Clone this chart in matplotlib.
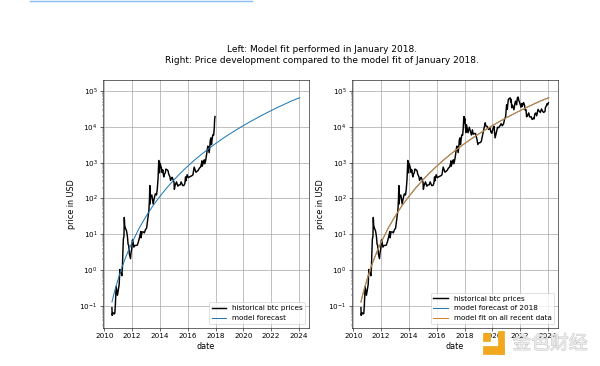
import matplotlib
matplotlib.use("Agg")
import matplotlib.pyplot as plt
import matplotlib.dates as mdates
import matplotlib.patheffects as pe
import pandas as pd
from matplotlib.lines import Line2D
from matplotlib.patches import Rectangle

# ---------------- data ----------------
price_dates = [
    "2010-07-18", "2010-07-25", "2010-08-05", "2010-08-20", "2010-09-10", "2010-10-01",
    "2010-10-15", "2010-11-06", "2010-11-20", "2010-12-10", "2010-12-25", "2011-01-10",
    "2011-01-25", "2011-02-10", "2011-02-25", "2011-03-10", "2011-03-25", "2011-04-05",
    "2011-04-20", "2011-05-01", "2011-05-15", "2011-05-30", "2011-06-08", "2011-06-20",
    "2011-07-01", "2011-07-15", "2011-08-01", "2011-08-15", "2011-09-01", "2011-09-15",
    "2011-10-01", "2011-10-20", "2011-11-18", "2011-12-01", "2011-12-20", "2012-01-08",
    "2012-01-25", "2012-02-15", "2012-03-10", "2012-04-10", "2012-05-15", "2012-06-15",
    "2012-07-15", "2012-08-15", "2012-08-20", "2012-09-15", "2012-10-15", "2012-11-15",
    "2012-12-15", "2013-01-15", "2013-02-15", "2013-03-15", "2013-03-30", "2013-04-09",
    "2013-04-16", "2013-05-01", "2013-06-01", "2013-07-05", "2013-08-01", "2013-09-01",
    "2013-10-01", "2013-10-20", "2013-11-10", "2013-11-30", "2013-12-18", "2014-01-05",
    "2014-01-25", "2014-02-10", "2014-02-25", "2014-03-15", "2014-04-10", "2014-04-25",
    "2014-05-20", "2014-06-05", "2014-07-01", "2014-08-01", "2014-08-18", "2014-09-20",
    "2014-10-05", "2014-10-25", "2014-11-15", "2014-12-15", "2015-01-05", "2015-01-14",
    "2015-02-01", "2015-03-10", "2015-04-15", "2015-05-15", "2015-06-15", "2015-07-10",
    "2015-08-20", "2015-09-20", "2015-10-15", "2015-11-04", "2015-11-12", "2015-12-15",
    "2016-01-15", "2016-02-15", "2016-03-15", "2016-04-15", "2016-05-15", "2016-06-17",
    "2016-07-01", "2016-08-02", "2016-09-01", "2016-10-01", "2016-11-01", "2016-12-01",
    "2016-12-30", "2017-01-05", "2017-01-12", "2017-02-15", "2017-03-10", "2017-03-25",
    "2017-04-20", "2017-05-10", "2017-05-25", "2017-06-12", "2017-07-16", "2017-08-01",
    "2017-08-15", "2017-09-01", "2017-09-15", "2017-10-01", "2017-10-20", "2017-11-12",
    "2017-11-28", "2017-12-07", "2017-12-17",
    # after the January 2018 fit
    "2017-12-22", "2018-01-06", "2018-01-20", "2018-02-05", "2018-02-20", "2018-03-10",
    "2018-04-01", "2018-05-05", "2018-06-28", "2018-07-25", "2018-08-14", "2018-09-15",
    "2018-10-15", "2018-11-20", "2018-12-15", "2019-01-15", "2019-02-15", "2019-03-15",
    "2019-04-05", "2019-05-15", "2019-06-26", "2019-07-15", "2019-08-15", "2019-09-25",
    "2019-10-26", "2019-11-25", "2019-12-18", "2020-01-15", "2020-02-13", "2020-03-12",
    "2020-04-15", "2020-05-15", "2020-06-15", "2020-07-27", "2020-08-17", "2020-09-15",
    "2020-10-20", "2020-11-15", "2020-12-15", "2021-01-08", "2021-01-27", "2021-02-21",
    "2021-03-13", "2021-04-14", "2021-04-25", "2021-05-10", "2021-05-23", "2021-06-15",
    "2021-07-20", "2021-08-22", "2021-09-06", "2021-09-28", "2021-10-20", "2021-11-08",
    "2021-11-26", "2021-12-15", "2022-01-22", "2022-02-10", "2022-02-24", "2022-03-29",
    "2022-04-25", "2022-05-12", "2022-06-01", "2022-06-18", "2022-07-15", "2022-08-13",
    "2022-09-06", "2022-10-15", "2022-11-09", "2022-12-15", "2022-12-30", "2023-01-20",
    "2023-02-15", "2023-03-10", "2023-04-14", "2023-05-15", "2023-06-15", "2023-07-13",
    "2023-08-17", "2023-09-11", "2023-10-15", "2023-10-25", "2023-11-15", "2023-12-08",
    "2023-12-18", "2024-01-11",
]
price_usd = [
    0.09, 0.055, 0.065, 0.065, 0.06, 0.062,
    0.10, 0.35, 0.28, 0.20, 0.25, 0.32,
    0.40, 1.05, 0.90, 0.87, 0.80, 0.70,
    1.20, 3.0, 7.5, 8.8, 29.6, 17,
    16, 14, 13, 11, 8.2, 5.3,
    5.0, 2.8, 2.1, 3.0, 3.9, 7.0,
    6.0, 4.4, 4.9, 4.9, 5.0, 6.3,
    8.5, 12, 8.0, 11.5, 11.8, 11,
    13.5, 15, 27, 47, 93, 230,
    70, 115, 125, 70, 100, 135,
    125, 175, 340, 1150, 520, 950,
    800, 680, 530, 630, 400, 470,
    520, 660, 640, 590, 480, 400,
    320, 360, 390, 330, 280, 180,
    230, 290, 220, 240, 240, 290,
    230, 230, 260, 400, 310, 460,
    380, 400, 415, 430, 455, 750,
    680, 540, 570, 610, 700, 750,
    960, 1120, 790, 1000, 1200, 930,
    1230, 1700, 2300, 2900, 1900, 2700,
    4300, 4900, 3200, 4400, 6000, 5900,
    9800, 16000, 19300,
    13000, 17100, 11500, 6900, 11400, 9000,
    6800, 9700, 5900, 8200, 6200, 6500,
    6450, 4500, 3200, 3600, 3600, 3900,
    5000, 8000, 12900, 10500, 10300, 8400,
    9500, 7100, 6600, 8800, 10300, 4900,
    6900, 9700, 9400, 11000, 12200, 10700,
    12000, 16000, 19500, 41000, 30500, 57000,
    61000, 64000, 49000, 58000, 34000, 40000,
    29800, 49000, 52000, 41000, 65000, 67500,
    54000, 48000, 35000, 44000, 37000, 47500,
    40000, 29000, 30000, 19000, 20800, 24400,
    18800, 19100, 16000, 17400, 16500, 22700,
    24300, 20200, 30500, 27200, 25100, 31400,
    26600, 25100, 27000, 34500, 37500, 44000,
    41000, 46600,
]
fit_cutoff = "2017-12-17"   # last price available to the January 2018 fit

model_dates = [
    "2010-07-18", "2010-10-01", "2011-01-01", "2011-04-01", "2011-07-01", "2011-10-01",
    "2012-01-01", "2012-07-01", "2013-01-01", "2013-07-01", "2014-01-01", "2014-07-01",
    "2015-01-01", "2015-07-01", "2016-01-01", "2016-07-01", "2017-01-01", "2017-07-01",
    "2018-01-01", "2018-07-01", "2019-01-01", "2019-07-01", "2020-01-01", "2020-07-01",
    "2021-01-01", "2021-07-01", "2022-01-01", "2022-07-01", "2023-01-01", "2023-07-01",
    "2024-01-20",
]
model_2018 = [
    0.13, 0.27, 0.58, 1.15, 2.1, 3.7,
    6.0, 14.7, 32, 63, 115, 199,
    329, 521, 798, 1190, 1725, 2450,
    3400, 4650, 6240, 8250, 10800, 13900,
    17800, 22500, 28300, 35100, 43400, 53000,
    64600,
]
model_all = [
    0.13, 0.27, 0.58, 1.15, 2.1, 3.7,
    6.0, 14.7, 32, 63, 115, 199,
    329, 521, 798, 1190, 1725, 2450,
    3400, 4650, 6240, 8250, 10800, 13900,
    17800, 22500, 28300, 35100, 43400, 53000,
    64600,
]

title_lines = ["Left: Model fit performed in January 2018.",
               "Right: Price development compared to the model fit of January 2018."]

# ---------------- figure ----------------
DPI = 52
fig = plt.figure(figsize=(600 / DPI, 366 / DPI), dpi=DPI)

pd_price = pd.Series(price_usd, index=pd.to_datetime(price_dates))
pd_model18 = pd.Series(model_2018, index=pd.to_datetime(model_dates))
pd_modelall = pd.Series(model_all, index=pd.to_datetime(model_dates))
left_price = pd_price[pd_price.index <= pd.Timestamp(fit_cutoff)]

ax1 = fig.add_axes([0.171, 0.105, 0.344, 0.676])
ax2 = fig.add_axes([0.586, 0.105, 0.344, 0.676])

black = "black"
blue = "#1f77b4"
orange = "#d9822b"

ax1.plot(left_price.index, left_price.values, color=black, lw=2.0, label="historical btc prices")
ax1.plot(pd_model18.index, pd_model18.values, color=blue, lw=1.4, label="model forecast")

ax2.plot(pd_price.index, pd_price.values, color=black, lw=2.0, label="historical btc prices")
ax2.plot(pd_model18.index, pd_model18.values, color=blue, lw=1.4, label="model forecast of 2018")
ax2.plot(pd_modelall.index, pd_modelall.values, color=orange, lw=1.4, label="model fit on all recent data")

for ax in (ax1, ax2):
    ax.set_yscale("log")
    ax.set_ylim(10 ** -1.6, 10 ** 5.3)
    ax.set_xlim(pd.Timestamp("2009-11-15"), pd.Timestamp("2024-09-20"))
    ax.xaxis.set_major_locator(mdates.YearLocator(2))
    ax.xaxis.set_major_formatter(mdates.DateFormatter("%Y"))
    ax.grid(True, color="#a0a0a0", lw=0.9)
    ax.set_xlabel("date", fontsize=11)
    ax.set_ylabel("price in USD", fontsize=11)
    ax.legend(loc="lower right")

fig.suptitle("\n".join(title_lines), x=0.537, y=1 - 45 / 366, va="top",
             fontsize=12.5, linespacing=1.35)

# thin blue rule at the very top of the page
fig.add_artist(Line2D([30 / 600, 252 / 600], [1 - 0.8 / 366] * 2,
                      color="#8fbcf0", lw=2.0, transform=fig.transFigure))

# watermark
wm = "#f2a81d"
fig.add_artist(Rectangle((483 / 600, 1 - 354 / 366), 21 / 600, 8 / 366,
                         color=wm, transform=fig.transFigure))
fig.add_artist(Rectangle((498 / 600, 1 - 354 / 366), 6 / 600, 23 / 366,
                         color=wm, transform=fig.transFigure))
fig.add_artist(Rectangle((483 / 600, 1 - 341 / 366), 7 / 600, 8 / 366,
                         color=wm, transform=fig.transFigure))
fig.text(550 / 600, 1 - 344 / 366, "金色财经", family=["Noto Sans CJK SC", "DejaVu Sans"],
         fontsize=26, color="#ececec", ha="center", va="center",
         path_effects=[pe.withStroke(linewidth=1.2, foreground="#c4c4c4")])

fig.savefig("out.png", dpi=DPI)
